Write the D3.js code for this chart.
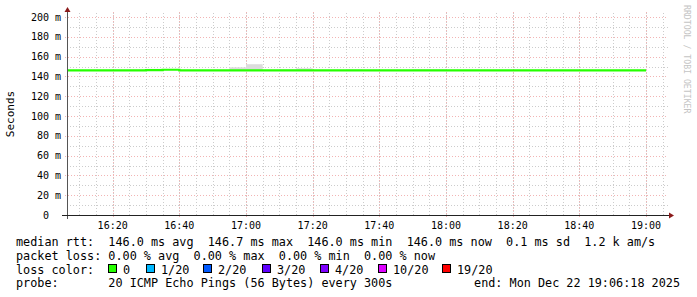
<!DOCTYPE html>
<html><head><meta charset="utf-8">
<script src="https://cdn.jsdelivr.net/npm/d3@7"></script>
<style>
html,body{margin:0;padding:0;background:#fff;}
svg{display:block;}
text{font-family:"DejaVu Sans Mono",monospace;white-space:pre;}
</style></head>
<body>
<svg id="c" width="697" height="297"></svg>
<script>
// ---- data ----
const chartStart = "16:06:18";
const chartEnd = "19:06:18";
const slotEnds = ["16:10","16:15","16:20","16:25","16:30","16:35","16:40","16:45","16:50","16:55",
  "17:00","17:05","17:10","17:15","17:20","17:25","17:30","17:35","17:40","17:45",
  "17:50","17:55","18:00","18:05","18:10","18:15","18:20","18:25","18:30","18:35",
  "18:40","18:45","18:50","18:55","19:00"];
const medianRtt = [146.0,146.0,146.0,146.0,146.0,146.3,146.7,146.0,146.0,146.0,
  146.0,146.0,146.0,146.0,146.0,146.0,146.0,146.0,146.0,146.0,
  146.0,146.0,146.0,146.0,146.0,146.0,146.0,146.0,146.0,146.0,
  146.0,146.0,146.0,146.0,146.0];
const smokeMax = [146.0,146.0,146.0,146.0,146.8,147.6,147.0,146.0,146.0,146.0,
  149.2,152.3,146.0,147.1,148.2,146.0,146.5,147.0,146.0,146.0,
  146.0,147.0,147.0,146.0,146.0,146.0,146.0,146.0,146.0,146.0,
  146.0,146.0,146.0,146.0,146.0];
const xTickLabels = ["16:20","16:40","17:00","17:20","17:40","18:00","18:20","18:40","19:00"];
const yTicks = [0,20,40,60,80,100,120,140,160,180,200];
const yTickLabels = ["0  ","20 m","40 m","60 m","80 m","100 m","120 m","140 m","160 m","180 m","200 m"];
const legendRows = [
  "median rtt:  146.0 ms avg  146.7 ms max  146.0 ms min  146.0 ms now  0.1 ms sd  1.2 k am/s",
  "packet loss: 0.00 % avg  0.00 % max  0.00 % min  0.00 % now",
  "loss color:",
  "probe:       20 ICMP Echo Pings (56 Bytes) every 300s"
];
const lossLabels = ["0","1/20","2/20","3/20","4/20","10/20","19/20"];
const lossColors = ["#26ff00","#00b8ff","#0059ff","#5e00ff","#7e00ff","#dd00ff","#ff0000"];
const endLabel = "end: Mon Dec 22 19:06:18 2025";
const watermark = "RRDTOOL / TOBI OETIKER";

// ---- helpers ----
function t(s){const p=s.split(":").map(Number);return new Date(Date.UTC(2025,11,22,p[0],p[1],p[2]||0));}
const svg = d3.select("#c");
const L=67,R=667,T=17,B=215;
const x = d3.scaleUtc().domain([t(chartStart),t(chartEnd)]).range([L,R]);
const y = d3.scaleLinear().domain([0,200]).range([B,T]);

// minor grid
const g = svg.append("g");
const minorX = d3.utcMinute.every(5).range(t(chartStart), t(chartEnd));
g.selectAll(".mvx").data(minorX).join("line")
  .attr("x1",d=>Math.round(x(d))+0.5).attr("x2",d=>Math.round(x(d))+0.5)
  .attr("y1",B).attr("y2",12)
  .attr("stroke","#cccccc").attr("stroke-dasharray","1,2");
const minorY = d3.range(10,201,20);
g.selectAll(".mhy").data(minorY).join("line")
  .attr("x1",L).attr("x2",R+1)
  .attr("y1",d=>Math.round(y(d))+0.5).attr("y2",d=>Math.round(y(d))+0.5)
  .attr("stroke","#cccccc").attr("stroke-dasharray","1,2");
// major grid
const majorX = xTickLabels.map(t);
g.selectAll(".Mvx").data(majorX).join("line")
  .attr("x1",d=>Math.round(x(d))+0.5).attr("x2",d=>Math.round(x(d))+0.5)
  .attr("y1",B+2).attr("y2",12)
  .attr("stroke","#f2b4b4").attr("stroke-dasharray","1,2");
g.selectAll(".Mhy").data(yTicks.filter(d=>d>0)).join("line")
  .attr("x1",L-2).attr("x2",R+1)
  .attr("y1",d=>Math.round(y(d))+0.5).attr("y2",d=>Math.round(y(d))+0.5)
  .attr("stroke","#f2b4b4").attr("stroke-dasharray","1,2");

// smoke
const slots = slotEnds.map((s,i)=>{const e=t(s);const st=new Date(Math.max(+t(chartStart), +e-300000));return {st,e,m:medianRtt[i],s:smokeMax[i]};});
svg.append("g").selectAll("rect").data(slots.filter(d=>d.s>d.m)).join("rect")
  .attr("x",d=>x(d.st)).attr("width",d=>x(d.e)-x(d.st))
  .attr("y",d=>y(d.s)).attr("height",d=>y(d.m)-y(d.s))
  .attr("fill","#dcdcdc");

// median line
const pts = [[t(chartStart),medianRtt[0]]].concat(slots.map(d=>[d.e,d.m]));
svg.append("path").datum(pts)
  .attr("d",d3.line().x(d=>x(d[0])).y(d=>y(d[1])).curve(d3.curveStepBefore))
  .attr("fill","none").attr("stroke","#26ff00").attr("stroke-width",2.2);

// axes
svg.append("line").attr("x1",L+0.5).attr("x2",L+0.5).attr("y1",B+4).attr("y2",10).attr("stroke","#555");
svg.append("line").attr("x1",L-5).attr("x2",R+3).attr("y1",B+0.5).attr("y2",B+0.5).attr("stroke","#222");
svg.append("path").attr("d",`M${L-2.5},${12} L${L+3.5},${12} L${L+0.5},${7} Z`).attr("fill","#8b1a1a");
svg.append("path").attr("d",`M${R+2},${B-2.5} L${R+2},${B+3.5} L${R+7},${B+0.5} Z`).attr("fill","#8b1a1a");

// tick labels
svg.append("g").selectAll("text").data(xTickLabels).join("text")
  .attr("x",d=>x(t(d))).attr("y",B+14).attr("text-anchor","middle")
  .attr("font-size","10px").attr("fill","#000").text(d=>d);
svg.append("g").selectAll("text").data(yTicks).join("text")
  .attr("x",61).attr("y",d=>y(d)+3.5).attr("text-anchor","end")
  .attr("font-size","10px").attr("fill","#000").text((d,i)=>yTickLabels[i]);

// y title
svg.append("text").attr("transform","translate(14,114) rotate(-90)")
  .attr("text-anchor","middle").attr("font-size","11px").attr("fill","#000").text("Seconds");
// watermark
svg.append("text").attr("transform","translate(684,5) rotate(90)")
  .attr("font-size","8.2px").attr("fill","#c4c4c4").text(watermark);

// legend
const rowY=[245.5,259.5,273.5,287];
svg.append("g").selectAll("text").data(legendRows).join("text")
  .attr("x",16).attr("y",(d,i)=>rowY[i]).attr("font-size","11.8px").attr("fill","#000").text(d=>d);
const boxX=[108,146,203,262,320,378,442];
const lg = svg.append("g");
lg.selectAll("rect").data(lossColors).join("rect")
  .attr("x",(d,i)=>boxX[i]+0.5).attr("y",264.5).attr("width",8).attr("height",8)
  .attr("fill",d=>d).attr("stroke","#000");
lg.selectAll("text").data(lossLabels).join("text")
  .attr("x",(d,i)=>boxX[i]+15).attr("y",rowY[2]).attr("font-size","11.8px").attr("fill","#000").text(d=>d);
svg.append("text").attr("x",680).attr("y",rowY[3]).attr("text-anchor","end")
  .attr("font-size","11.8px").attr("fill","#000").text(endLabel);
</script>
</body></html>
